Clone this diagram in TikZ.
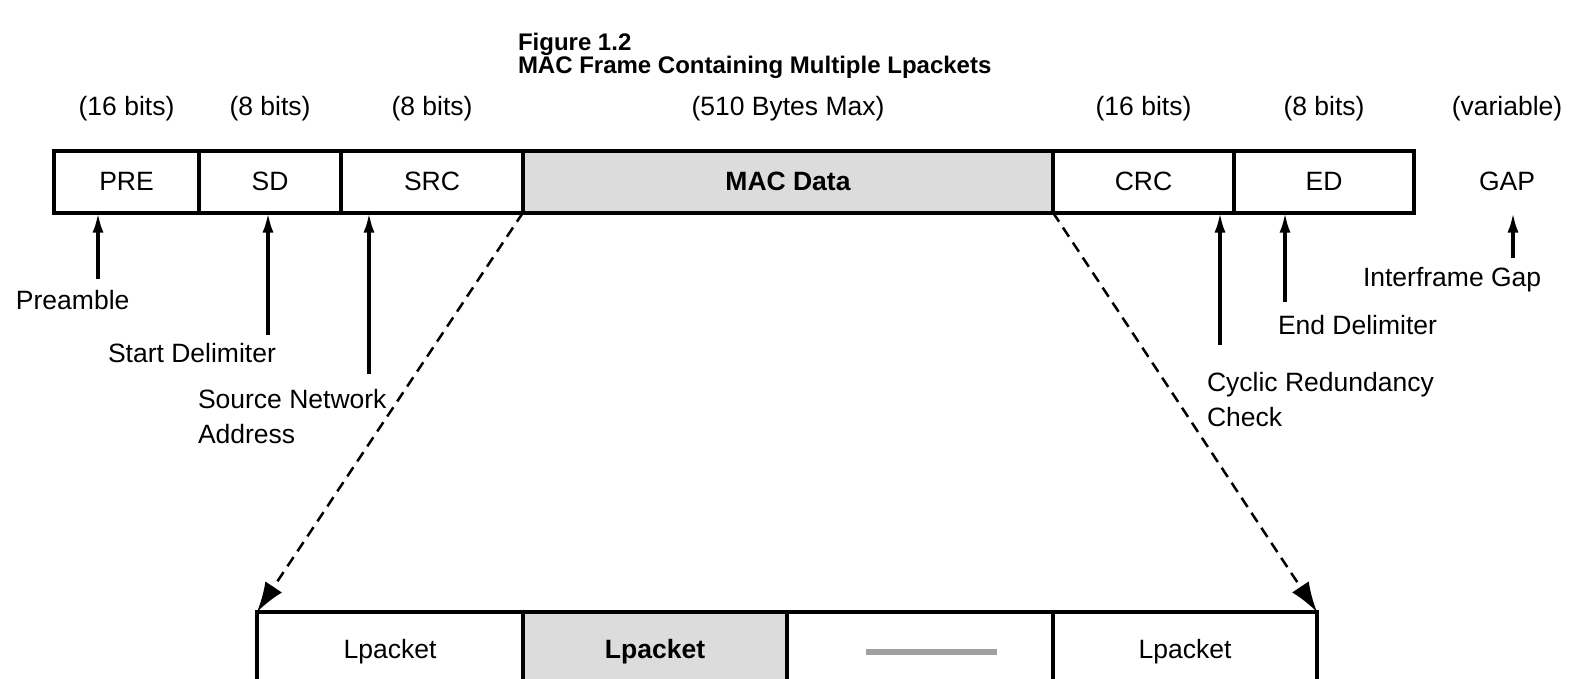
\documentclass[tikz,border=0pt]{standalone}
\usepackage{fontspec}
\setmainfont{Liberation Sans}
\usetikzlibrary{positioning,arrows.meta}
\definecolor{cellgray}{HTML}{DCDCDC}
\definecolor{bargray}{HTML}{A0A0A0}
\newcommand\figfont{\fontsize{26.5}{35}\selectfont}

\begin{document}
\begin{tikzpicture}[x=1pt, y=-1pt, node distance=0pt,
  every node/.style={inner sep=0pt, outer sep=0pt, font=\figfont},
  field/.style={draw, line width=4pt, minimum height=62pt},
  bold/.style={font=\figfont\bfseries},
  note/.style={anchor=west, align=left},
  pointer/.style={-{Latex[length=20pt,width=11pt]}, line width=3.5pt},
  link/.style={-{Latex[length=30pt,width=20pt]}, line width=2.5pt, dash pattern=on 11pt off 7pt}]
  \useasboundingbox (0,0) rectangle (1569,678);
  \clip (0,0) rectangle (1569,678);

  \node[anchor=north west, align=left, font=\fontsize{24}{20.5}\selectfont\bfseries] (title) at (518,33)
    {Figure 1.2\\MAC Frame Containing Multiple Lpackets};

  \node[field, minimum width=145pt] (pre) at (126.5,181.5) {PRE};
  \node[field, minimum width=142pt, right=of pre] (sd) {SD};
  \node[field, minimum width=182pt, right=of sd] (src) {SRC};
  \node[field, minimum width=530pt, right=of src, fill=cellgray, bold] (mac) {MAC Data};
  \node[field, minimum width=181pt, right=of mac] (crc) {CRC};
  \node[field, minimum width=180pt, right=of crc] (ed) {ED};
  \node (gap) at (1507,181.5) {GAP};

  \node[above=30pt of pre] (szpre) {(16 bits)};
  \node[above=30pt of sd] (szsd) {(8 bits)};
  \node[above=30pt of src] (szsrc) {(8 bits)};
  \node[above=30pt of mac] (szmac) {(510 Bytes Max)};
  \node[above=30pt of crc] (szcrc) {(16 bits)};
  \node[above=30pt of ed] (szed) {(8 bits)};
  \node (szgap) at (szed -| gap) {(variable)};

  \node[note] (preamble) at (16,300) {Preamble};
  \node[note] (start) at (108,353) {Start Delimiter};
  \node[note] (source) at (198,417) {Source Network\\Address};
  \node[note] (check) at (1207,400) {Cyclic Redundancy\\Check};
  \node[note] (end) at (1278,325) {End Delimiter};
  \node[note] (interframe) at (1363,280) {Interframe Gap};

  \coordinate (p1) at (98,279);
  \coordinate (p2) at (268,335);
  \coordinate (p3) at (369,374);
  \coordinate (p4) at (1220,345);
  \coordinate (p5) at (1285,302);
  \coordinate (p6) at (1513,258);

  \node[field, minimum width=266pt, minimum height=80pt] (lp1) at (390,652) {Lpacket};
  \node[field, minimum width=264pt, minimum height=80pt, right=of lp1, fill=cellgray, bold] (lp2) {Lpacket};
  \node[field, minimum width=266pt, minimum height=80pt, right=of lp2] (lp3) {};
  \node[field, minimum width=264pt, minimum height=80pt, right=of lp3] (lp4) {Lpacket};
  \draw[bargray, line width=6pt] ([xshift=-54pt]lp3.center) -- ([xshift=77pt]lp3.center);

  \path[pointer]
    (p1) edge (p1 |- pre.south)
    (p2) edge (p2 |- sd.south)
    (p3) edge (p3 |- src.south)
    (p4) edge (p4 |- crc.south)
    (p5) edge (p5 |- ed.south)
    (p6) edge (p6 |- ed.south);
  \path[link]
    (mac.south west) edge (lp1.north west)
    (mac.south east) edge (lp4.north east);
\end{tikzpicture}
\end{document}
